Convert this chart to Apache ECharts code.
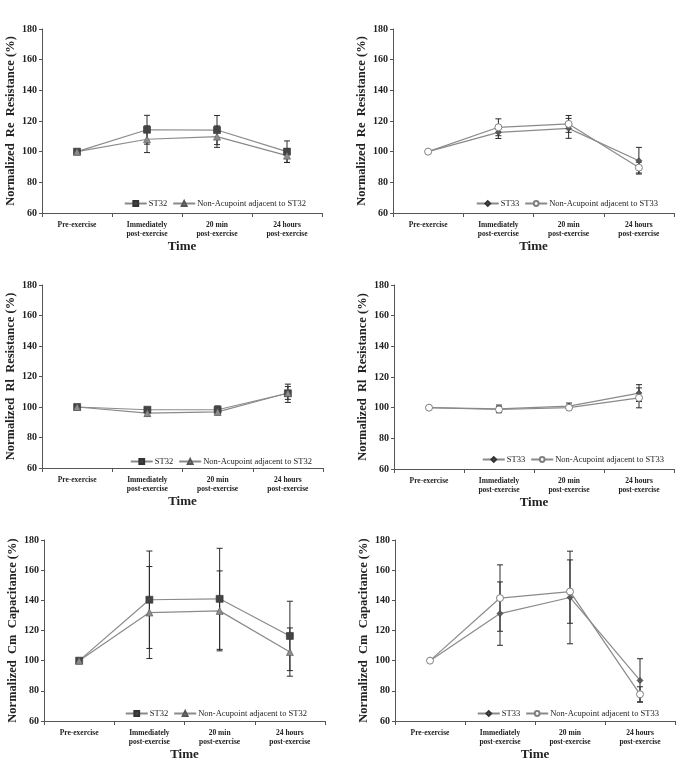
<!DOCTYPE html>
<html>
<head>
<meta charset="utf-8">
<script src="https://cdn.jsdelivr.net/npm/echarts@6/dist/echarts.min.js"></script>
<style>
  html, body { margin: 0; padding: 0; background: #fff; }
  #main { width: 684px; height: 762px; }
</style>
</head>
<body>
<div id="main"></div>
<script>
var categories = ['Pre-exercise', 'Immediately\npost-exercise', '20 min\npost-exercise', '24 hours\npost-exercise'];

// Re resistance
var reST32 = [100, 114.3, 114.1, 100];
var reST32Err = [0, 9.4, 9.5, 7];
var reNonST32 = [100, 108.1, 109.8, 97.4];
var reNonST32Err = [0, 8.7, 7.0, 4.5];
var reST33 = [100, 112.6, 115.2, 94.1];
var reST33Err = [0, 4, 6.5, 8.7];
var reNonST33 = [100, 115.9, 118.1, 89.6];
var reNonST33Err = [0, 5.5, 5.5, 3.5];

// Rl resistance
var rlST32 = [100, 98.2, 98.2, 109];
var rlST32Err = [0, 1.5, 2.5, 6];
var rlNonST32 = [100, 96, 96.8, 109.2];
var rlNonST32Err = [0, 2, 2, 4.2];
var rlST33 = [100, 99.2, 101, 109.5];
var rlST33Err = [0, 2.5, 2, 5.5];
var rlNonST33 = [100, 98.8, 100, 106.4];
var rlNonST33Err = [0, 2, 1.5, 6.5];

// Cm capacitance
var cmST32 = [100, 140.4, 141, 116.4];
var cmST32Err = [0, 32.3, 33.5, 23];
var cmNonST32 = [100, 131.9, 133, 105.7];
var cmNonST32Err = [0, 30.5, 26.5, 16];
var cmST33 = [100, 131.2, 141.9, 86.9];
var cmST33Err = [0, 21, 30.7, 14.4];
var cmNonST33 = [100, 141.5, 145.8, 77.7];
var cmNonST33Err = [0, 22, 21, 5];

var yMin = 60, yMax = 180, yStep = 20;

var font = 'Liberation Serif, Times New Roman, serif';

var panels = [
    {yName: 'Normalized  Re  Resistance (%)', point: 'ST32', a: reST32, aErr: reST32Err, b: reNonST32, bErr: reNonST32Err,
     grid: {left: 42, top: 29, width: 280, height: 184}, legend: {right: 378, top: 199}},
    {yName: 'Normalized  Re  Resistance (%)', point: 'ST33', a: reST33, aErr: reST33Err, b: reNonST33, bErr: reNonST33Err,
     grid: {left: 393, top: 29, width: 281, height: 184}, legend: {right: 26, top: 199}},
    {yName: 'Normalized  Rl  Resistance (%)', point: 'ST32', a: rlST32, aErr: rlST32Err, b: rlNonST32, bErr: rlNonST32Err,
     grid: {left: 42, top: 285, width: 281, height: 183}, legend: {right: 372, top: 457}},
    {yName: 'Normalized  Rl  Resistance (%)', point: 'ST33', a: rlST33, aErr: rlST33Err, b: rlNonST33, bErr: rlNonST33Err,
     grid: {left: 394, top: 285, width: 280, height: 184}, legend: {right: 20, top: 455}},
    {yName: 'Normalized  Cm  Capacitance (%)', point: 'ST32', a: cmST32, aErr: cmST32Err, b: cmNonST32, bErr: cmNonST32Err,
     grid: {left: 44, top: 540, width: 281, height: 183}, legend: {right: 377, top: 709}},
    {yName: 'Normalized  Cm  Capacitance (%)', point: 'ST33', a: cmST33, aErr: cmST33Err, b: cmNonST33, bErr: cmNonST33Err,
     grid: {left: 395, top: 540, width: 280, height: 183}, legend: {right: 25, top: 709}}
];

function errData(vals, errs) {
    var out = [];
    for (var i = 0; i < vals.length; i++) {
        if (errs[i] > 0) out.push([i, vals[i] - errs[i], vals[i] + errs[i]]);
    }
    return out;
}

function renderErr(params, api) {
    var x = api.value(0);
    var top = api.coord([x, api.value(2)]);
    var bot = api.coord([x, api.value(1)]);
    var hw = 3;
    var st = {stroke: '#2a2a2a', lineWidth: 1};
    return {
        type: 'group',
        children: [
            {type: 'line', shape: {x1: top[0], y1: top[1], x2: bot[0], y2: bot[1]}, style: st},
            {type: 'line', shape: {x1: top[0] - hw, y1: top[1], x2: top[0] + hw, y2: top[1]}, style: st},
            {type: 'line', shape: {x1: bot[0] - hw, y1: bot[1], x2: bot[0] + hw, y2: bot[1]}, style: st}
        ]
    };
}

var grids = [], xAxes = [], yAxes = [], legends = [], series = [];

panels.forEach(function (p, i) {
    grids.push(p.grid);
    xAxes.push({
        type: 'category',
        gridIndex: i,
        data: categories,
        name: 'Time',
        nameLocation: 'middle',
        nameGap: 27,
        nameTextStyle: {fontFamily: font, fontWeight: 'bold', fontSize: 13, color: '#222'},
        axisLine: {lineStyle: {color: '#555', width: 1}},
        axisTick: {show: true, length: 4, lineStyle: {color: '#555'}},
        axisLabel: {fontFamily: font, fontWeight: 'bold', fontSize: 7.5, lineHeight: 9.5, color: '#222', margin: 7, interval: 0},
        splitLine: {show: false}
    });
    yAxes.push({
        type: 'value',
        gridIndex: i,
        min: yMin,
        max: yMax,
        interval: yStep,
        name: p.yName,
        nameLocation: 'middle',
        nameGap: 25,
        nameTextStyle: {fontFamily: font, fontWeight: 'bold', fontSize: 12.5, color: '#222'},
        axisLine: {show: true, lineStyle: {color: '#555', width: 1}},
        axisTick: {show: true, length: 3, lineStyle: {color: '#555'}},
        axisLabel: {fontFamily: font, fontWeight: 'bold', fontSize: 10, color: '#222', margin: 5},
        splitLine: {show: false}
    });

    var nameA = p.point;
    var nameB = 'Non-Acupoint adjacent to ' + p.point;
    var isST32 = p.point === 'ST32';

    legends.push({
        right: p.legend.right,
        top: p.legend.top,
        data: [nameA, nameB],
        itemWidth: 22,
        itemHeight: 6,
        itemGap: 5,
        textStyle: {fontFamily: font, fontSize: 8.5, color: '#222', padding: [0, 0, 0, -3]},
        padding: 0
    });

    series.push({
        type: 'custom', name: nameA + ' err', xAxisIndex: i, yAxisIndex: i,
        renderItem: renderErr, data: errData(p.a, p.aErr), z: 1, silent: true
    });
    series.push({
        type: 'custom', name: nameB + ' err', xAxisIndex: i, yAxisIndex: i,
        renderItem: renderErr, data: errData(p.b, p.bErr), z: 1, silent: true
    });

    series.push({
        type: 'line', name: nameA, xAxisIndex: i, yAxisIndex: i, data: p.a,
        symbol: isST32 ? 'rect' : 'diamond',
        symbolSize: isST32 ? 7 : 6,
        lineStyle: {color: '#8a8a8a', width: 1.2},
        itemStyle: {color: isST32 ? '#444' : '#5a5a5a', borderColor: '#333', borderWidth: 0.6},
        z: 3
    });
    series.push({
        type: 'line', name: nameB, xAxisIndex: i, yAxisIndex: i, data: p.b,
        symbol: isST32 ? 'triangle' : 'circle',
        symbolSize: 7,
        lineStyle: {color: '#8a8a8a', width: 1.2},
        itemStyle: isST32 ? {color: '#8c8c8c', borderColor: '#555', borderWidth: 0.6}
                          : {color: '#fff', borderColor: '#808080', borderWidth: 1},
        z: 3
    });
});

var chart = echarts.init(document.getElementById('main'));
chart.setOption({
    backgroundColor: '#fff',
    animation: false,
    grid: grids,
    xAxis: xAxes,
    yAxis: yAxes,
    legend: legends,
    series: series
});
</script>
</body>
</html>
